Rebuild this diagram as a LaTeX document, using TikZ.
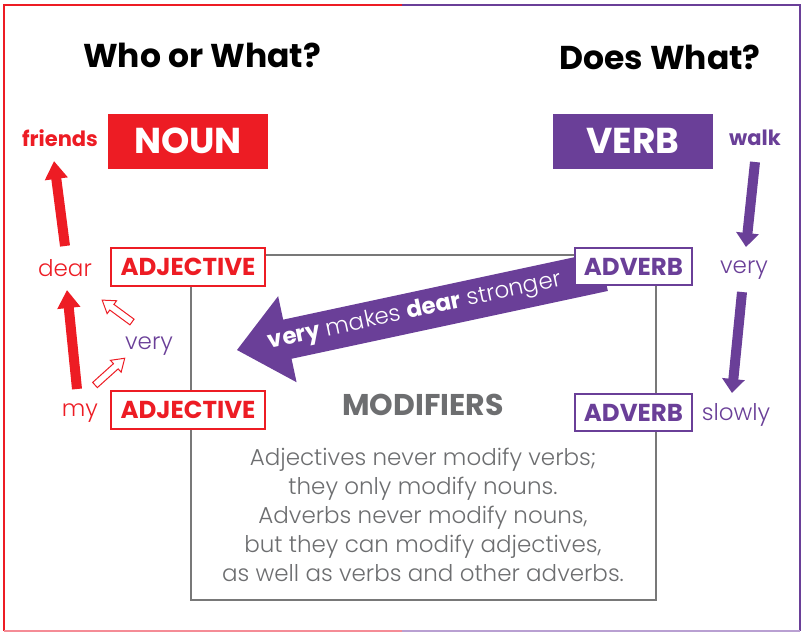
\documentclass[tikz,border=0pt]{standalone}
\usepackage{fontspec}
\setmainfont{Poppins}
\newfontfamily\lightfont{Poppins}[UprightFont={* Light}, BoldFont={* SemiBold}]
\usetikzlibrary{arrows.meta}
\definecolor{ared}{RGB}{237,28,36}
\definecolor{apurple}{RGB}{106,63,152}
\definecolor{agray}{RGB}{109,110,112}
\definecolor{lgray}{RGB}{120,120,120}
\definecolor{pinkb}{RGB}{245,140,150}
\definecolor{lpurb}{RGB}{185,160,210}
\newcommand{\fs}[1]{\fontsize{#1}{#1}\selectfont}
\begin{document}
\begin{tikzpicture}[x=1pt,y=-1pt,
  title/.style={font=\fs{33}\bfseries, text=black, inner sep=0pt},
  fillbox/.style={minimum width=160pt, minimum height=55pt, inner sep=0pt, text=white, font=\fs{36}\bfseries},
  outbox/.style={draw, line width=2.5pt, fill=white, inner sep=0pt, font=\fs{24.5}\bfseries},
  word/.style={font=\lightfont\fs{23}, inner sep=0pt},
  bword/.style={font=\fs{21}\bfseries, inner sep=0pt},
  fatarrow/.style={line width=10pt, -{Triangle[length=18pt,width=22pt]}},
  thinarrow/.style={line width=10pt, -{Triangle[length=14pt,width=22pt]}},
  hollow/.style={draw=ared, fill=white, line width=1pt, line join=miter},
]
\useasboundingbox (0,0) rectangle (804,633);
% frame
\draw[ared, line width=2pt] (402,5) -- (4,5) -- (4,631);
\draw[apurple, line width=2pt] (402,5) -- (800,5) -- (800,631);
\draw[pinkb, line width=2pt] (4,631) -- (402,631);
\draw[lpurb, line width=2pt] (402,631) -- (800,631);
% titles
\node[title] (t1) at (202,55) {Who or What?};
\node[title] (t2) at (660,57) {Does What?};
% modifiers box
\node[draw=lgray, line width=2pt, minimum width=465pt, minimum height=345pt] (modbox) at (423.5,427.5) {};
% big arrow
\begin{scope}[shift={(237,350)}, rotate=12.1]
\fill[apurple] (0,0) -- (51.5,-44) -- (51.5,-20) -- (375,-20) -- (375,20) -- (51.5,20) -- (51.5,44) -- cycle;
\node[rotate=12.1, text=white, font=\lightfont\fs{23}, inner sep=0pt] (bigtext) at (182,0) {{\bfseries\normalfont\fs{23}\bfseries very} makes {\normalfont\fs{23}\bfseries dear} stronger};
\end{scope}
% top boxes
\node[fillbox, fill=ared] (noun) at (188,141) {NOUN};
\node[fillbox, fill=apurple] (verb) at (633,141) {VERB};
\node[bword, text=ared] (friends) at (60,138) {friends};
\node[bword, text=apurple] (walk) at (755,138) {walk};
% left column
\node[outbox, draw=ared, text=ared, minimum width=154pt, minimum height=38pt] (adj1) at (188,267) {ADJECTIVE};
\node[outbox, draw=ared, text=ared, minimum width=154pt, minimum height=38pt] (adj2) at (188,410) {ADJECTIVE};
\node[word, text=ared] (dear) at (65,268) {dear};
\node[word, text=apurple] (veryl) at (149,346) {very};
\node[word, text=ared] (my) at (80,413) {my};
% right column
\node[outbox, draw=apurple, text=apurple, minimum width=117pt, minimum height=37pt] (adv1) at (633.5,266.5) {ADVERB};
\node[outbox, draw=apurple, text=apurple, minimum width=117pt, minimum height=37pt] (adv2) at (633.5,412.5) {ADVERB};
\node[word, text=apurple] (veryr) at (744,270) {very};
\node[word, text=apurple] (slowly) at (736,415) {slowly};
% arrows
\coordinate (r1s) at (65,246); \coordinate (r1e) at (54,161);
\coordinate (r2s) at (77,389); \coordinate (r2e) at (67,290);
\coordinate (p1s) at (755,162); \coordinate (p1e) at (746,247);
\coordinate (p2s) at (742,292); \coordinate (p2e) at (732,393);
\draw[ared, fatarrow] (r1s) -- (r1e);
\draw[ared, fatarrow] (r2s) -- (r2e);
\draw[apurple, thinarrow] (p1s) -- (p1e);
\draw[apurple, thinarrow] (p2s) -- (p2e);
% hollow arrows
\begin{scope}[shift={(132,322)}, rotate=143.7]
\draw[hollow] (0,-3.5) -- (25,-3.5) -- (25,-8) -- (37,0) -- (25,8) -- (25,3.5) -- (0,3.5) -- cycle;
\end{scope}
\begin{scope}[shift={(95,385)}, rotate=42]
\draw[hollow] (0,-3.5) -- (28,-3.5) -- (28,-8) -- (40,0) -- (28,8) -- (28,3.5) -- (0,3.5) -- cycle;
\end{scope}
% modifiers text
\node[font=\fs{30}\bfseries, text=agray, inner sep=0pt] (modt) at (423,405) {MODIFIERS};
\node[font=\lightfont\fontsize{23}{29}\selectfont, text=agray, align=center, inner sep=0pt] (body) at (423,515) {Adjectives never modify verbs;\\they only modify nouns.\\Adverbs never modify nouns,\\but they can modify adjectives,\\as well as verbs and other adverbs.};
\end{tikzpicture}
\end{document}
